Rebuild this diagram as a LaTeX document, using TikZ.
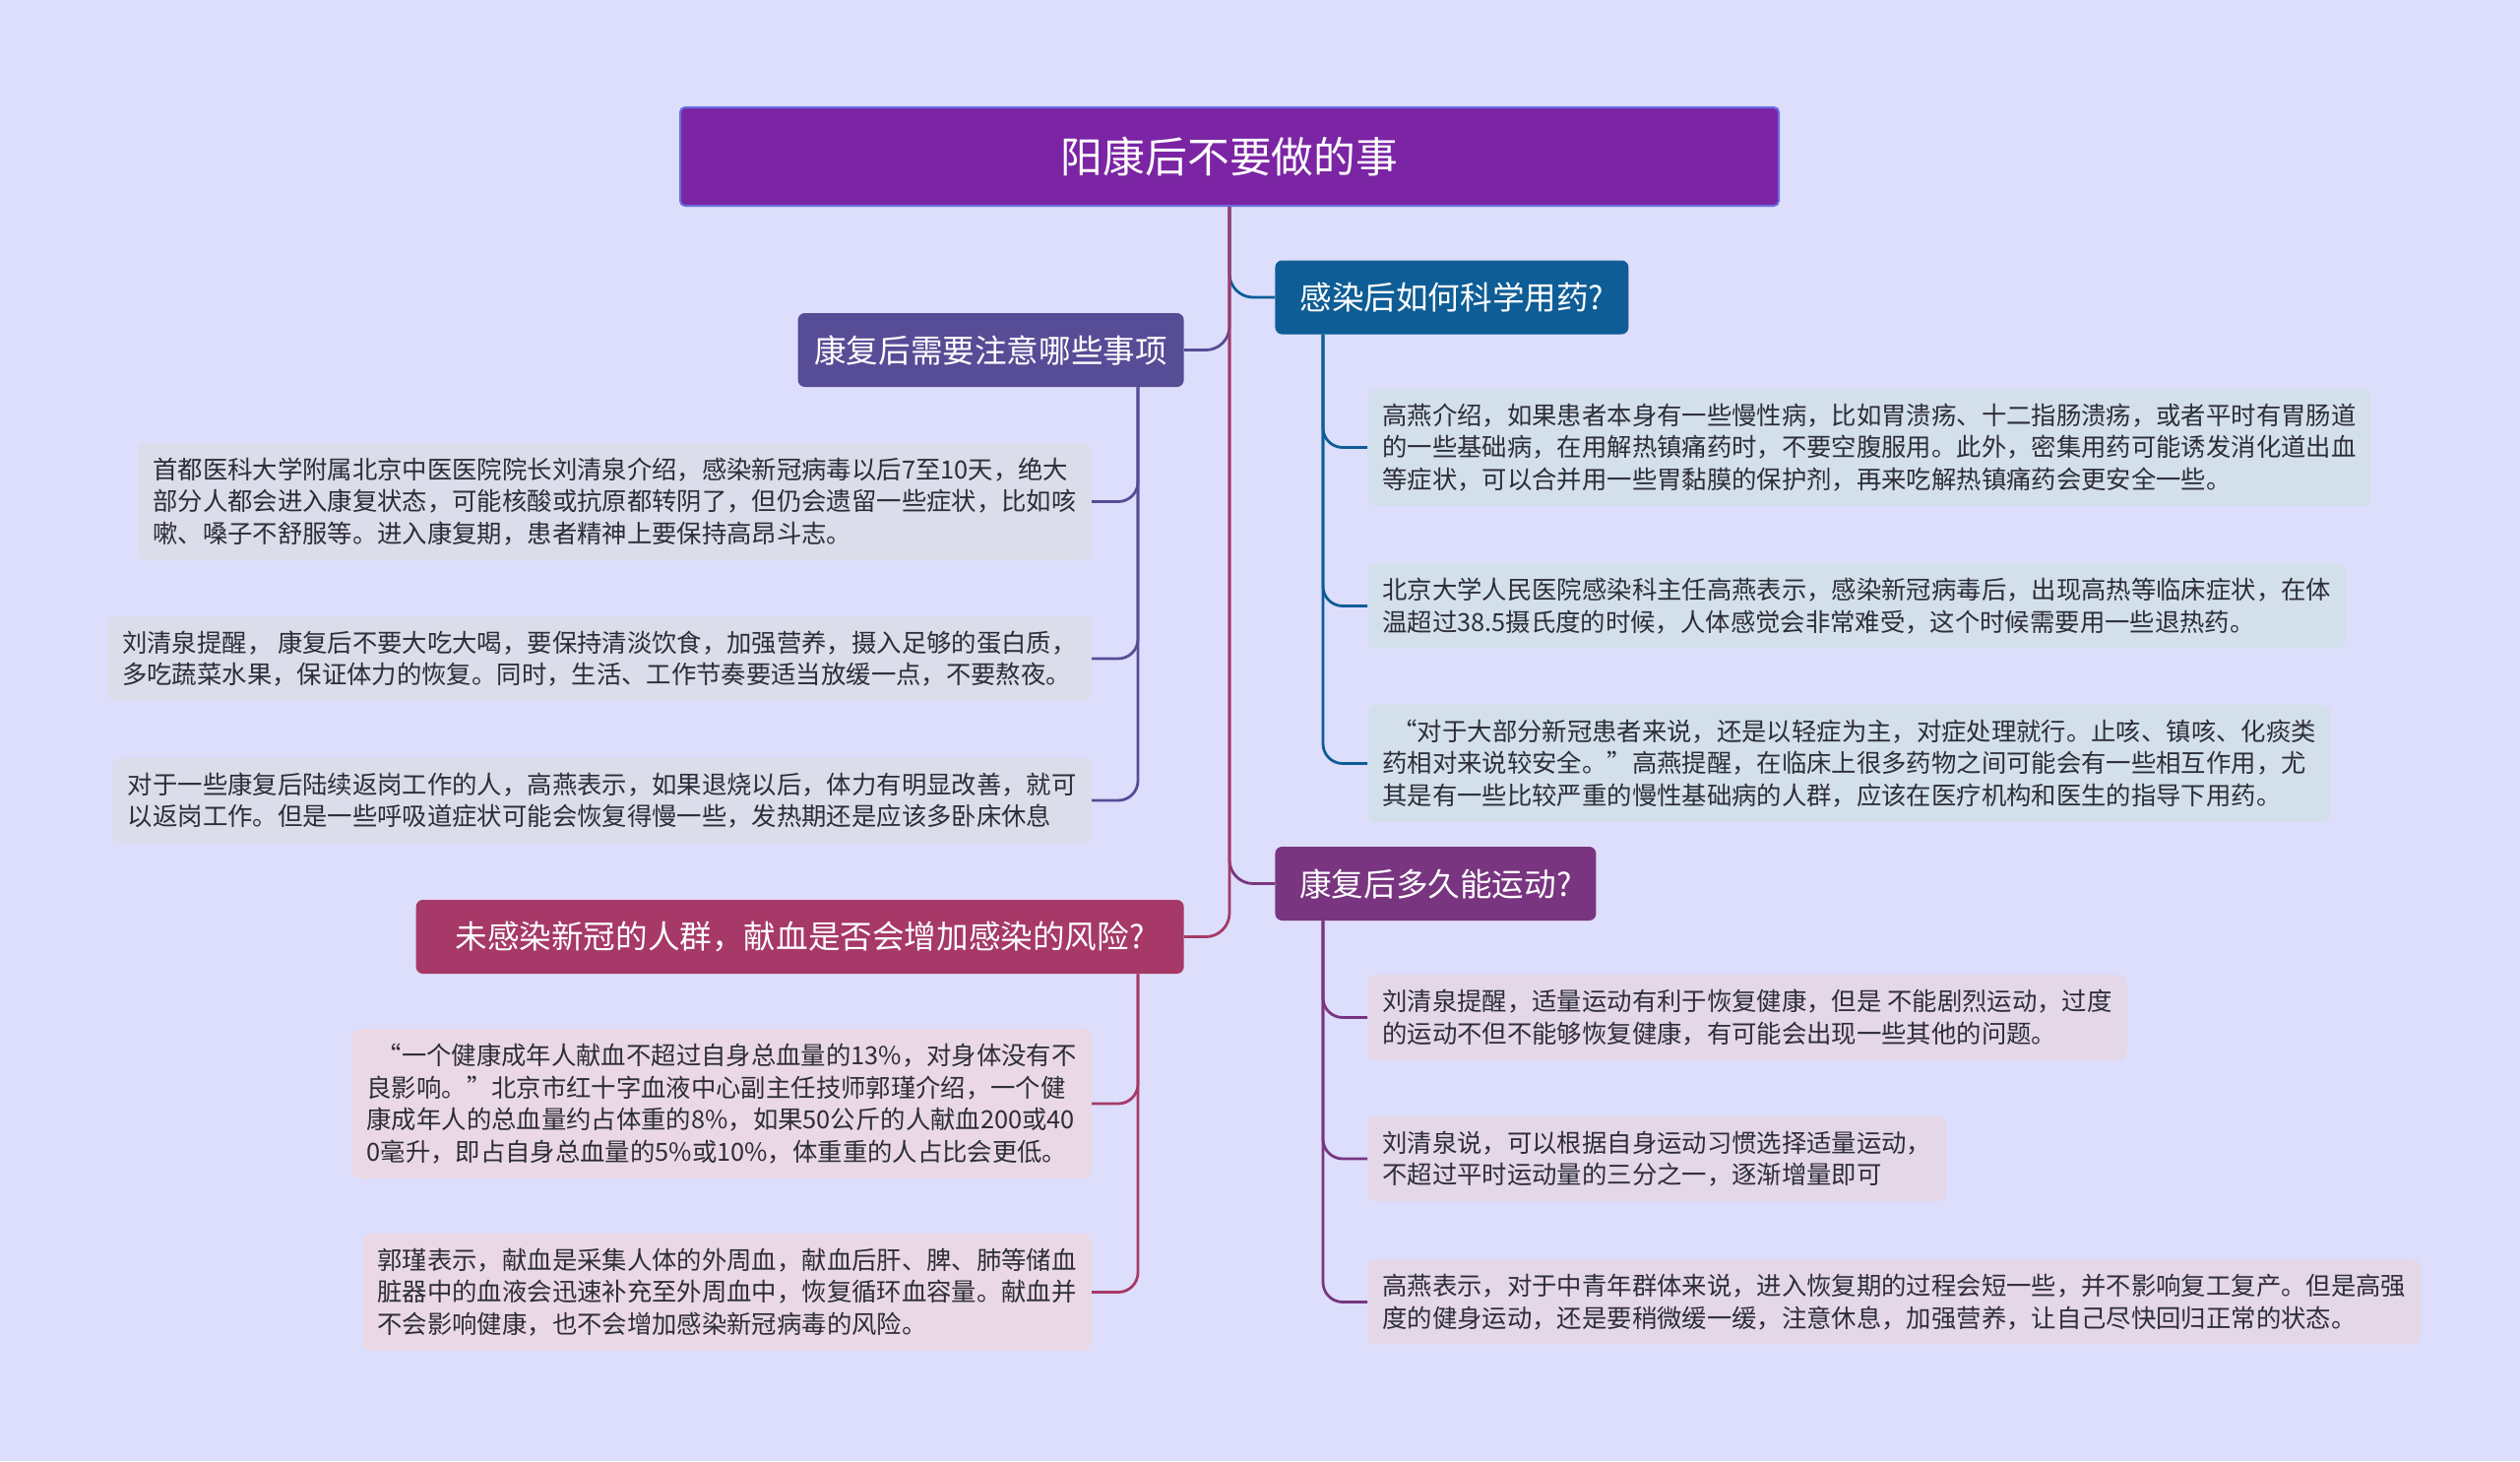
\documentclass[tikz,border=0pt]{standalone}
\usepackage{fontspec}
\setmainfont{Noto Sans CJK SC}
\definecolor{mmBack}{RGB}{221, 222, 251}
\definecolor{mmRoot}{RGB}{123, 36, 164}
\definecolor{mmRootLine}{RGB}{104, 110, 226}
\definecolor{mmBlue}{RGB}{15, 93, 150}
\definecolor{mmSlate}{RGB}{87, 76, 150}
\definecolor{mmPlum}{RGB}{121, 53, 128}
\definecolor{mmRose}{RGB}{166, 57, 103}
\definecolor{mmNoteGrey}{RGB}{220, 220, 234}
\definecolor{mmNoteRose}{RGB}{234, 217, 229}
\definecolor{mmNoteBlue}{RGB}{211, 224, 235}
\definecolor{mmNotePlum}{RGB}{228, 215, 231}
\definecolor{mmText}{RGB}{45, 45, 55}
\usetikzlibrary{positioning}
\tikzset{
  topicbox/.style={rounded corners=3.5pt, minimum height=37.5pt, text=white, font=\fontsize{16.3}{20}\selectfont},
  leafbox/.style={rounded corners=4pt, inner xsep=7.5pt, inner ysep=7.4pt, align=left, text=mmText, font=\fontsize{12.68}{16.3}\selectfont},
  trunk/.style={line width=1.4pt, rounded corners=12pt},
  twig/.style={line width=1.4pt, rounded corners=10pt}
}

\begin{document}
\begin{tikzpicture}[x=0.5pt, y=-0.5pt]
  \useasboundingbox (0,0) rectangle (2560,1484);
  \fill[mmBack] (0,0) rectangle (2560,1484);

  \node[draw=mmRootLine, line width=1pt, fill=mmRoot, rounded corners=2.5pt, minimum width=558pt, minimum height=50pt, text=white, font=\fontsize{21.4}{26}\selectfont] (root) at (1249,159) {阳康后不要做的事};

  \node[topicbox, fill=mmBlue, minimum width=179.5pt, anchor=west] (drugs) at (1295,302) {感染后如何科学用药?};
  \node[topicbox, fill=mmSlate, minimum width=196pt, anchor=east] (care) at (1203,355.5) {康复后需要注意哪些事项};
  \node[topicbox, fill=mmPlum, minimum width=163pt, anchor=west] (sport) at (1295,897.5) {康复后多久能运动?};
  \node[topicbox, fill=mmRose, minimum width=390pt, anchor=east] (blood) at (1203,951.5) {未感染新冠的人群，献血是否会增加感染的风险?};

  \draw[trunk, mmBlue] (root.south) |- (drugs.west);
  \draw[trunk, mmPlum] (root.south) |- (sport.west);
  \draw[trunk, mmSlate] (root.south) |- (care.east);
  \draw[trunk, mmRose] (root.south) |- (blood.east);

  \foreach \n/\y/\txt in {
    care1/509.5/{首都医科大学附属北京中医医院院长刘清泉介绍，感染新冠病毒以后7至10天，绝大\\部分人都会进入康复状态，可能核酸或抗原都转阴了，但仍会遗留一些症状，比如咳\\嗽、嗓子不舒服等。进入康复期，患者精神上要保持高昂斗志。},
    care2/669/{刘清泉提醒， 康复后不要大吃大喝，要保持清淡饮食，加强营养，摄入足够的蛋白质，\\多吃蔬菜水果，保证体力的恢复。同时，生活、工作节奏要适当放缓一点，不要熬夜。},
    care3/813/{对于一些康复后陆续返岗工作的人，高燕表示，如果退烧以后，体力有明显改善，就可\\以返岗工作。但是一些呼吸道症状可能会恢复得慢一些，发热期还是应该多卧床休息}%
  } {
    \node[leafbox, fill=mmNoteGrey, anchor=east] (\n) at (1109,\y) {\txt};
    \draw[twig, mmSlate] ([xshift=-23.5pt]care.south east) |- (\n.east);
  }

  \foreach \n/\y/\txt in {
    blood1/1121/{\hspace{0.4em}“一个健康成年人献血不超过自身总血量的13\%，对身体没有不\\良影响。”北京市红十字血液中心副主任技师郭瑾介绍，一个健\\康成年人的总血量约占体重的8\%，如果50公斤的人献血200或40\\0毫升，即占自身总血量的5\%或10\%，体重重的人占比会更低。},
    blood2/1312.5/{郭瑾表示，献血是采集人体的外周血，献血后肝、脾、肺等储血\\脏器中的血液会迅速补充至外周血中，恢复循环血容量。献血并\\不会影响健康，也不会增加感染新冠病毒的风险。}%
  } {
    \node[leafbox, fill=mmNoteRose, anchor=east] (\n) at (1109,\y) {\txt};
    \draw[twig, mmRose] ([xshift=-23.5pt]blood.south east) |- (\n.east);
  }

  \foreach \n/\y/\txt in {
    drugs1/454.5/{高燕介绍，如果患者本身有一些慢性病，比如胃溃疡、十二指肠溃疡，或者平时有胃肠道\\的一些基础病，在用解热镇痛药时，不要空腹服用。此外，密集用药可能诱发消化道出血\\等症状，可以合并用一些胃黏膜的保护剂，再来吃解热镇痛药会更安全一些。},
    drugs2/615.5/{北京大学人民医院感染科主任高燕表示，感染新冠病毒后，出现高热等临床症状，在体\\温超过38.5摄氏度的时候，人体感觉会非常难受，这个时候需要用一些退热药。},
    drugs3/775.5/{\hspace{0.4em}“对于大部分新冠患者来说，还是以轻症为主，对症处理就行。止咳、镇咳、化痰类\\药相对来说较安全。”高燕提醒，在临床上很多药物之间可能会有一些相互作用，尤\\其是有一些比较严重的慢性基础病的人群，应该在医疗机构和医生的指导下用药。}%
  } {
    \node[leafbox, fill=mmNoteBlue, anchor=west] (\n) at (1389,\y) {\txt};
    \draw[twig, mmBlue] ([xshift=24.5pt]drugs.south west) |- (\n.west);
  }

  \foreach \n/\y/\txt in {
    sport1/1033.5/{刘清泉提醒，适量运动有利于恢复健康，但是 不能剧烈运动，过度\\的运动不但不能够恢复健康，有可能会出现一些其他的问题。},
    sport2/1177/{刘清泉说，可以根据自身运动习惯选择适量运动，\\不超过平时运动量的三分之一，逐渐增量即可},
    sport3/1322.5/{高燕表示，对于中青年群体来说，进入恢复期的过程会短一些，并不影响复工复产。但是高强\\度的健身运动，还是要稍微缓一缓，注意休息，加强营养，让自己尽快回归正常的状态。}%
  } {
    \node[leafbox, fill=mmNotePlum, anchor=west] (\n) at (1389,\y) {\txt};
    \draw[twig, mmPlum] ([xshift=24.5pt]sport.south west) |- (\n.west);
  }
\end{tikzpicture}
\end{document}
